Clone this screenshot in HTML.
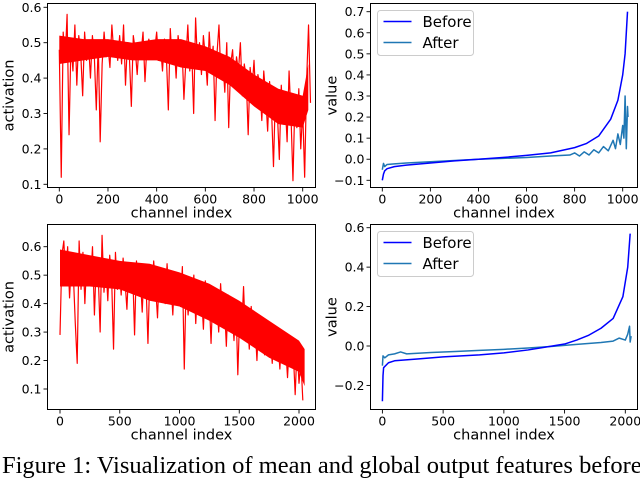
<!DOCTYPE html>
<html><head><meta charset="utf-8"><style>
html,body{margin:0;padding:0;background:#fff;width:640px;height:466px;overflow:hidden}
svg text{font-family:"DejaVu Sans","Liberation Sans",sans-serif;fill:#000}
#cap{position:absolute;left:2px;top:452px;font-family:"Liberation Serif",serif;font-size:24.5px;white-space:nowrap;color:#000}
</style></head><body>
<svg id="fig" width="640" height="466"></svg>
<div id="cap">Figure 1: Visualization of mean and global output features before</div>
<script>
// ---- data ----
const tlActivation = [0.48,0.12,0.53,0.45,0.58,0.24,0.50,0.42,0.55,0.38,0.52,0.47,0.35,0.53,0.45,0.50,
0.40,0.52,0.46,0.31,0.50,0.22,0.44,0.53,0.46,0.49,0.43,0.55,0.47,0.50,0.45,0.52,
0.44,0.55,0.38,0.50,0.46,0.32,0.52,0.48,0.41,0.50,0.47,0.53,0.39,0.49,0.51,0.46,
0.50,0.48,0.53,0.45,0.49,0.42,0.51,0.46,0.31,0.54,0.44,0.50,0.40,0.52,0.47,0.49,
0.34,0.45,0.55,0.42,0.48,0.30,0.57,0.44,0.50,0.41,0.52,0.46,0.38,0.53,0.43,0.49,
0.28,0.47,0.55,0.40,0.45,0.36,0.50,0.26,0.44,0.48,0.38,0.46,0.42,0.50,0.35,0.44,
0.40,0.24,0.43,0.37,0.45,0.33,0.41,0.38,0.28,0.42,0.35,0.25,0.39,0.31,0.15,0.36,
0.30,0.17,0.38,0.27,0.33,0.22,0.42,0.29,0.11,0.34,0.26,0.37,0.20,0.31,0.12,0.39,0.55,0.33];
const tlBandX = [0,100,200,300,400,500,600,700,800,900,1000,1023];
const tlBandHi = [0.52,0.51,0.51,0.50,0.51,0.51,0.49,0.46,0.41,0.37,0.35,0.44];
const tlBandLo = [0.44,0.45,0.46,0.45,0.45,0.43,0.42,0.38,0.32,0.27,0.26,0.31];

const blActivation = [0.29,0.57,0.62,0.48,0.60,0.42,0.55,0.50,0.33,0.19,0.62,0.45,0.58,0.40,0.56,0.52,
0.47,0.60,0.36,0.55,0.50,0.30,0.64,0.44,0.54,0.41,0.57,0.49,0.24,0.58,0.45,0.53,
0.43,0.56,0.48,0.38,0.54,0.46,0.52,0.29,0.55,0.44,0.50,0.37,0.53,0.47,0.26,0.51,
0.42,0.55,0.46,0.35,0.52,0.44,0.49,0.40,0.54,0.43,0.48,0.36,0.51,0.44,0.47,0.39,
0.53,0.17,0.48,0.36,0.45,0.41,0.50,0.33,0.47,0.39,0.44,0.31,0.48,0.37,0.43,0.26,
0.45,0.35,0.42,0.30,0.47,0.34,0.40,0.25,0.43,0.33,0.38,0.27,0.41,0.15,0.37,0.30,
0.46,0.28,0.35,0.24,0.39,0.29,0.33,0.20,0.36,0.26,0.31,0.22,0.34,0.25,0.29,0.19,
0.31,0.23,0.27,0.17,0.30,0.21,0.25,0.14,0.27,0.19,0.23,0.08,0.25,0.12,0.20,0.06];
const blBandX = [0,250,500,750,1000,1250,1500,1750,2000,2047];
const blBandHi = [0.59,0.57,0.55,0.54,0.51,0.47,0.41,0.34,0.27,0.24];
const blBandLo = [0.46,0.46,0.45,0.41,0.39,0.34,0.28,0.21,0.16,0.11];

const trBeforeX = [0,5,10,20,50,100,200,300,400,500,600,700,800,850,900,950,980,1000,1010,1020];
const trBeforeY = [-0.10,-0.07,-0.055,-0.045,-0.035,-0.028,-0.018,-0.008,0.0,0.008,0.018,0.03,0.055,0.075,0.11,0.19,0.28,0.40,0.50,0.70];
const trAfterX = [0,5,10,20,50,100,200,300,400,500,600,700,780,800,820,840,860,880,900,920,940,960,970,980,990,1000,1005,1010,1015,1020,1022];
const trAfterY = [-0.05,-0.02,-0.035,-0.025,-0.022,-0.018,-0.012,-0.006,0.0,0.004,0.008,0.015,0.02,0.03,0.015,0.035,0.02,0.045,0.03,0.06,0.04,0.09,0.05,0.12,0.07,0.16,0.10,0.30,0.05,0.25,0.20];

const brBeforeX = [0,5,10,50,100,300,500,800,1000,1200,1400,1500,1600,1700,1800,1900,1980,2020,2040];
const brBeforeY = [-0.28,-0.15,-0.11,-0.085,-0.075,-0.065,-0.055,-0.045,-0.035,-0.02,0.0,0.01,0.03,0.055,0.09,0.14,0.25,0.40,0.57];
const brAfterX = [0,5,20,50,100,150,200,400,600,800,1000,1200,1400,1600,1800,1900,1950,2000,2020,2035,2040,2048];
const brAfterY = [-0.10,-0.05,-0.06,-0.045,-0.04,-0.03,-0.04,-0.033,-0.028,-0.022,-0.017,-0.01,-0.002,0.008,0.018,0.025,0.04,0.03,0.06,0.10,0.02,0.05];

const tlXTicks=[0,200,400,600,800,1000], tlYTicks=[0.1,0.2,0.3,0.4,0.5,0.6];
const trXTicks=[0,200,400,600,800,1000], trYTicks=[-0.1,0,0.1,0.2,0.3,0.4,0.5,0.6,0.7];
const blXTicks=[0,500,1000,1500,2000], blYTicks=[0.1,0.2,0.3,0.4,0.5,0.6];
const brXTicks=[0,500,1000,1500,2000], brYTicks=[-0.2,0,0.2,0.4,0.6];

// ---- drawing ----
const NS="http://www.w3.org/2000/svg";
const svg=document.getElementById('fig');
function mk(tag,attrs,parent){const e=document.createElementNS(NS,tag);for(const k in attrs)e.setAttribute(k,attrs[k]);(parent||svg).appendChild(e);return e;}
function scale(d0,d1,r0,r1){return v=>r0+(v-d0)/(d1-d0)*(r1-r0);}
function fmt(v,dec){return (v<0?'\u2212':'')+Math.abs(v).toFixed(dec);}

function panel(name,box,xs,ys,xt,yt,ylab,dec){
  const g=mk('g',{});
  
  
  yt.forEach(v=>{
    const y=ys(v);
    const l=mk('line',{x1:box.l-4,x2:box.l,y1:y,y2:y,stroke:'#000','stroke-width':0.9},g);
    
    
    const t=mk('text',{x:box.l-6,y:y+4.5,'text-anchor':'end','font-size':12.5},g);
    
    
    t.textContent=fmt(v,dec);
  });
  xt.forEach(v=>{
    const x=xs(v);
    const l=mk('line',{x1:x,x2:x,y1:box.b,y2:box.b+4,stroke:'#000','stroke-width':0.9},g);
    
    
    const t=mk('text',{x:x,y:box.b+16,'text-anchor':'middle','font-size':12.5},g);
    
    
    t.textContent=String(v);
  });
  const xl=mk('text',{x:(box.l+box.r)/2,y:box.b+30,'text-anchor':'middle','font-size':14.5},g);
  
  
  xl.textContent='channel index';
  const cy=(box.t+box.b)/2;
  const yl=mk('text',{x:box.l-34,y:cy,'text-anchor':'middle','font-size':14.5,transform:`rotate(-90 ${box.l-34} ${cy})`},g);
  
  
  yl.textContent=ylab;
  const clip=mk('clipPath',{id:name+'-clip'},g);
  mk('rect',{x:box.l,y:box.t,width:box.r-box.l,height:box.b-box.t},clip);
  const plot=mk('g',{'clip-path':`url(#${name}-clip)`},g);
  return {g,plot,box};
}
function frame(p,name){
  const b=p.box;
  const r=mk('rect',{x:b.l,y:b.t,width:b.r-b.l,height:b.b-b.t,fill:'none',stroke:'#000','stroke-width':1},p.g);
  
  
}
function line(p,xsArr,ysArr,xs,ys,color,w,name){
  const d=xsArr.map((x,i)=>(i?'L':'M')+xs(x).toFixed(2)+' '+ys(ysArr[i]).toFixed(2)).join(' ');
  const e=mk('path',{d,fill:'none',stroke:color,'stroke-width':w,'stroke-linejoin':'round'},p.plot);
  
  
}
function band(p,bx,hi,lo,xs,ys,name){
  let d=bx.map((x,i)=>(i?'L':'M')+xs(x)+' '+ys(hi[i])).join(' ');
  for(let i=bx.length-1;i>=0;i--)d+=' L'+xs(bx[i])+' '+ys(lo[i]);
  const e=mk('path',{d:d+'Z',fill:'#ff0000',stroke:'none'},p.plot);
  
  
}
function legend(p,x,y,name){
  const g=mk('g',{},p.g);
  
  
  mk('rect',{x:x,y:y,width:96,height:45,rx:3,fill:'#fff',stroke:'#ccc','stroke-width':1},g);
  [['Before','#0000ff'],['After','#1f77b4']].forEach((it,i)=>{
    const yy=y+11+i*21;
    const l=mk('line',{x1:x+6,x2:x+34,y1:yy,y2:yy,stroke:it[1],'stroke-width':1.6},g);
    
    
    const t=mk('text',{x:x+45,y:yy+5.5,'font-size':15},g);
    
    
    t.textContent=it[0];
  });
}

// top-left
{
  const box={l:47.5,r:315.5,t:3.5,b:187.5};
  const xs=scale(0,1000,59.3,302.7), ys=scale(0.1,0.6,184.3,7.3);
  const p=panel('activation-chart-top',box,xs,ys,tlXTicks,tlYTicks,'activation',1);
  band(p,tlBandX,tlBandHi,tlBandLo,xs,ys,'activation-band-top');
  line(p,tlActivation.map((v,i)=>i*8),tlActivation,xs,ys,'#ff0000',1.2,'activation-line-top');
  frame(p,'activation-chart-top');
}
// top-right
{
  const box={l:370.5,r:637.5,t:3.5,b:187.5};
  const xs=scale(0,1000,382.3,622.7), ys=scale(-0.1,0.7,180.3,11.7);
  const p=panel('value-chart-top',box,xs,ys,trXTicks,trYTicks,'value',1);
  line(p,trAfterX,trAfterY,xs,ys,'#1f77b4',1.5,'after-line-top');
  line(p,trBeforeX,trBeforeY,xs,ys,'#0000ff',1.5,'before-line-top');
  frame(p,'value-chart-top');
  legend(p,377.5,10.5,'legend-top');
}
// bottom-left
{
  const box={l:47.5,r:315.5,t:224.5,b:409.5};
  const xs=scale(0,2000,60,299), ys=scale(0.1,0.6,389,246.7);
  const p=panel('activation-chart-bottom',box,xs,ys,blXTicks,blYTicks,'activation',1);
  band(p,blBandX,blBandHi,blBandLo,xs,ys,'activation-band-bottom');
  line(p,blActivation.map((v,i)=>i*16),blActivation,xs,ys,'#ff0000',1.2,'activation-line-bottom');
  frame(p,'activation-chart-bottom');
}
// bottom-right
{
  const box={l:370.5,r:637.5,t:224.5,b:409.5};
  const xs=scale(0,2000,382.4,625.3), ys=scale(0,0.6,346,227.7);
  const p=panel('value-chart-bottom',box,xs,ys,brXTicks,brYTicks,'value',1);
  line(p,brAfterX,brAfterY,xs,ys,'#1f77b4',1.5,'after-line-bottom');
  line(p,brBeforeX,brBeforeY,xs,ys,'#0000ff',1.5,'before-line-bottom');
  frame(p,'value-chart-bottom');
  legend(p,377.5,231.5,'legend-bottom');
}
</script>
</body></html>
